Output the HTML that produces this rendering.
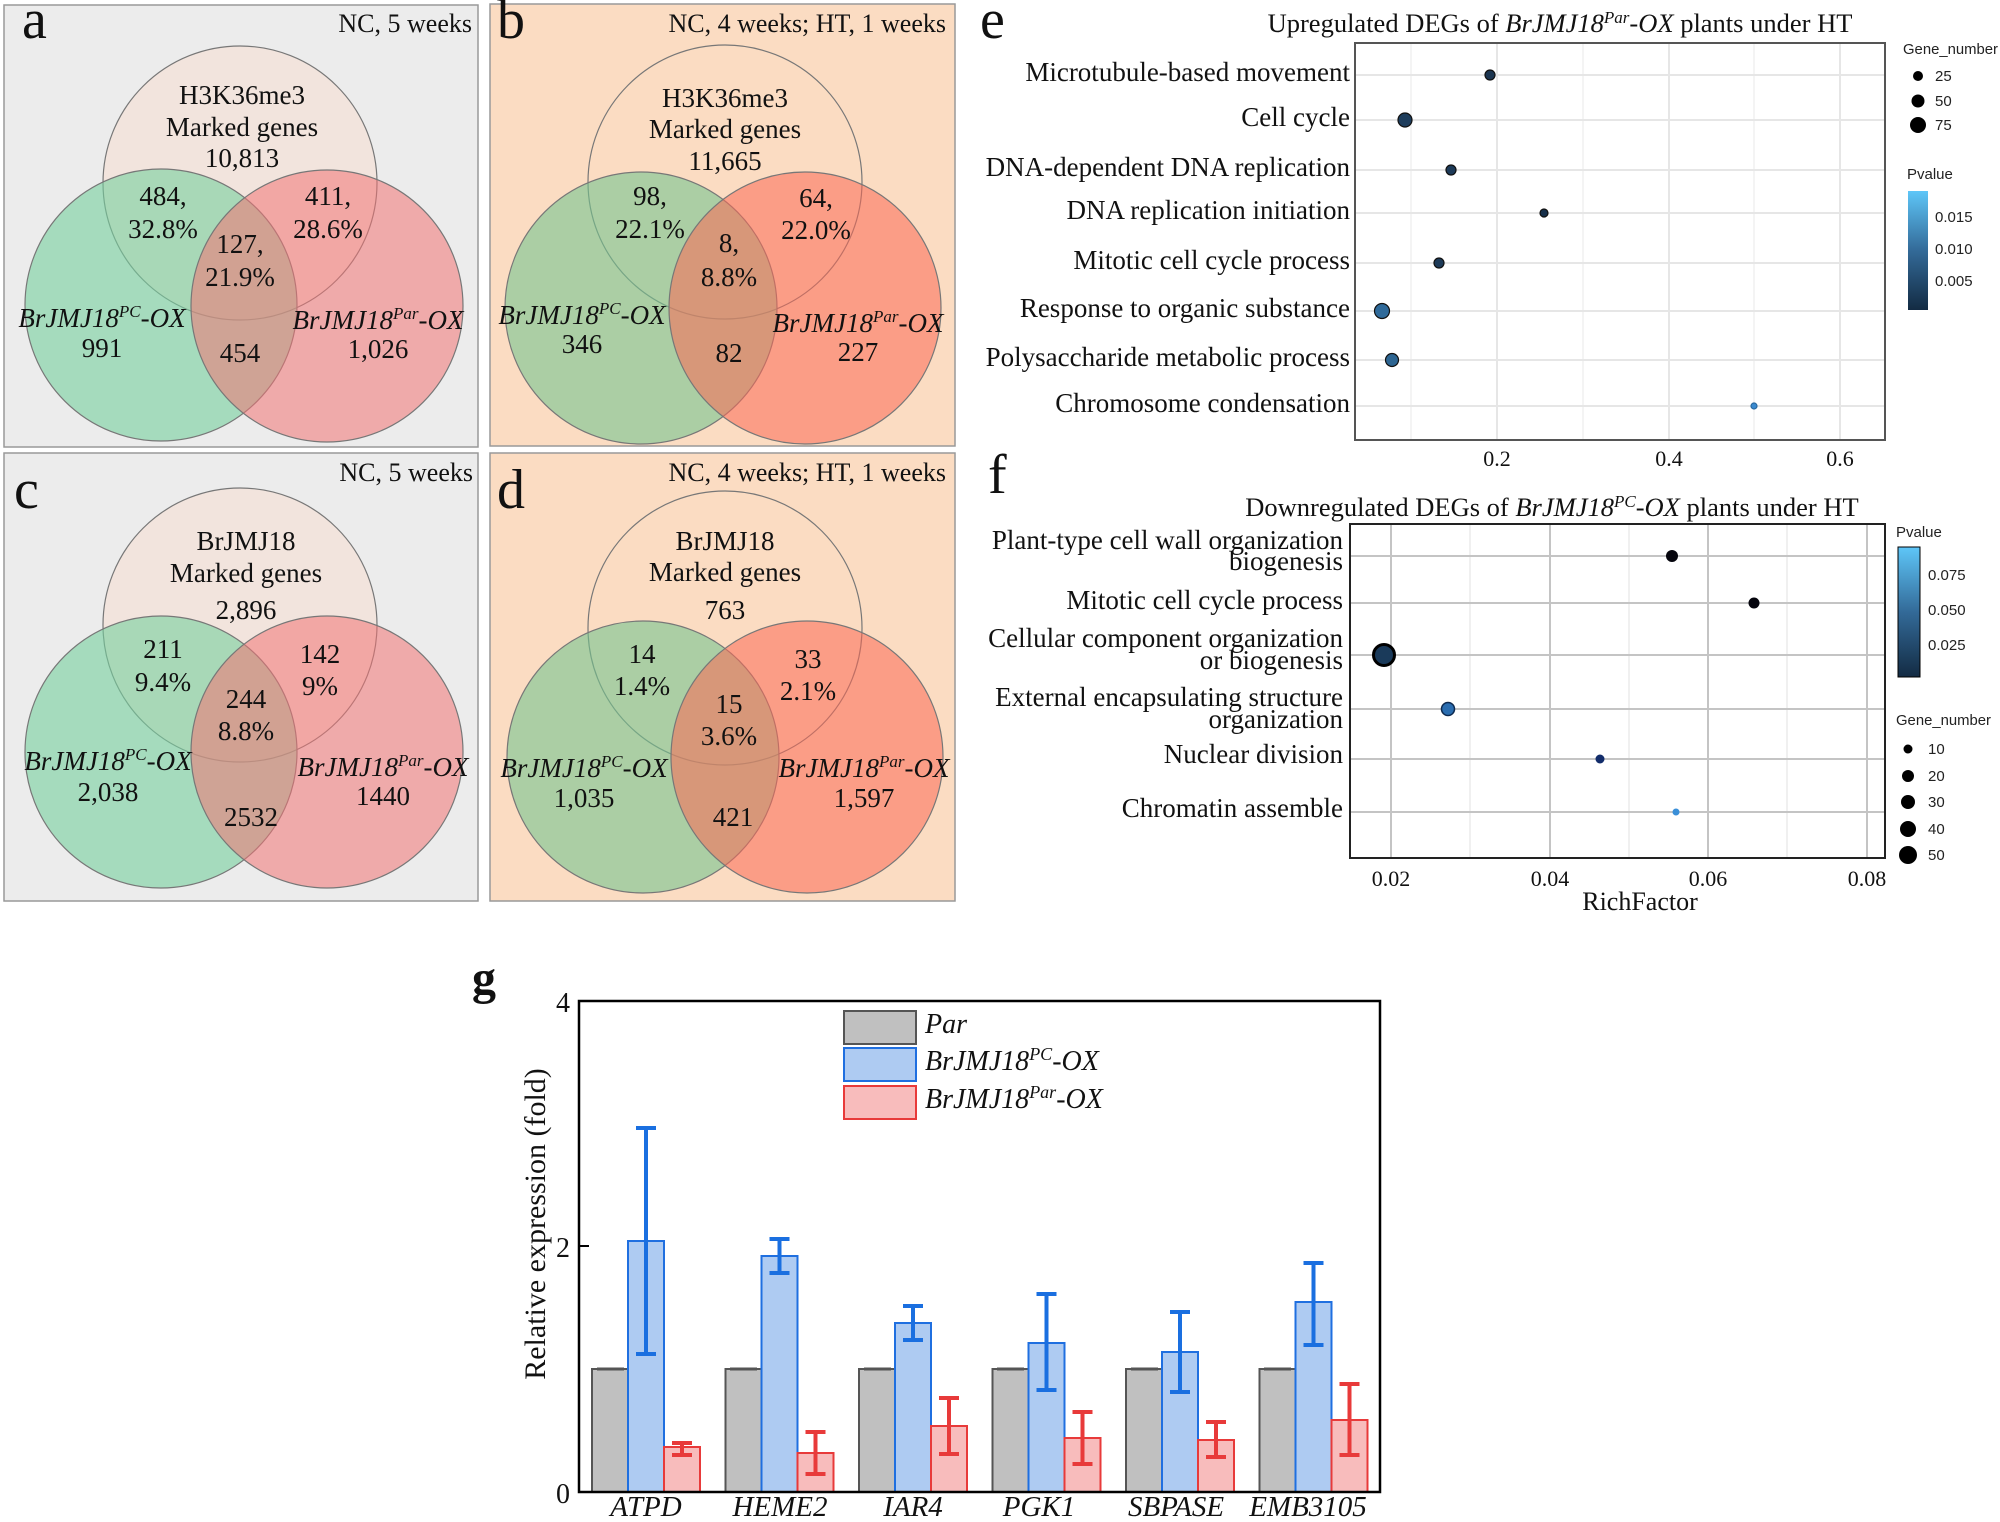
<!DOCTYPE html>
<html><head><meta charset="utf-8"><style>
html,body{margin:0;padding:0;background:#fff}
svg{display:block}
.t{font-family:"Liberation Serif",serif;fill:#111}
.s{font-family:"Liberation Sans",sans-serif;fill:#222}
</style></head><body>
<svg width="2000" height="1522" viewBox="0 0 2000 1522" xmlns="http://www.w3.org/2000/svg">
<defs>
<linearGradient id="pv" x1="0" y1="1" x2="0" y2="0"><stop offset="0" stop-color="#132b43"/><stop offset="0.5" stop-color="#336a98"/><stop offset="1" stop-color="#5ec6f8"/></linearGradient>
</defs>
<rect x="4" y="5" width="474" height="442" fill="#ececec" stroke="#999" stroke-width="1.5"/>
<rect x="490" y="4" width="465" height="442" fill="#fbdcc2" stroke="#999" stroke-width="1.5"/>
<rect x="4" y="453" width="474" height="448" fill="#ececec" stroke="#999" stroke-width="1.5"/>
<rect x="490" y="453" width="465" height="448" fill="#fbdcc2" stroke="#999" stroke-width="1.5"/>

<g stroke="#777" stroke-width="1.2">
<circle cx="240" cy="183" r="137" fill="#f7e0d4" fill-opacity="0.6"/>
<circle cx="161" cy="305" r="136" fill="#76d19f" fill-opacity="0.6"/>
<circle cx="327" cy="306" r="136" fill="#f37474" fill-opacity="0.55"/>
<circle cx="725" cy="182" r="137" fill="#fbdcc2" fill-opacity="0.5"/>
<circle cx="641" cy="308" r="136" fill="#76c48f" fill-opacity="0.6"/>
<circle cx="805" cy="308" r="136" fill="#fb6a55" fill-opacity="0.55"/>
<circle cx="240" cy="625" r="137" fill="#f7e0d4" fill-opacity="0.6"/>
<circle cx="161" cy="752" r="136" fill="#76d19f" fill-opacity="0.6"/>
<circle cx="327" cy="752" r="136" fill="#f37474" fill-opacity="0.55"/>
<circle cx="725" cy="628" r="137" fill="#fbdcc2" fill-opacity="0.5"/>
<circle cx="643" cy="757" r="136" fill="#76c48f" fill-opacity="0.6"/>
<circle cx="807" cy="757" r="136" fill="#fb6a55" fill-opacity="0.55"/>
</g>

<g class="t" text-anchor="middle" font-size="27">
<text x="22" y="38" font-size="56" text-anchor="start">a</text>
<text x="497" y="38" font-size="56" text-anchor="start">b</text>
<text x="14" y="508" font-size="56" text-anchor="start">c</text>
<text x="497" y="508" font-size="56" text-anchor="start">d</text>
<text x="472" y="32" text-anchor="end" font-size="26">NC, 5 weeks</text>
<text x="946" y="32" text-anchor="end" font-size="26">NC, 4 weeks; HT, 1 weeks</text>
<text x="473" y="481" text-anchor="end" font-size="26">NC, 5 weeks</text>
<text x="946" y="481" text-anchor="end" font-size="26">NC, 4 weeks; HT, 1 weeks</text>

<text x="242" y="104">H3K36me3</text><text x="242" y="136">Marked genes</text><text x="242" y="167">10,813</text>
<text x="163" y="205">484,</text><text x="163" y="238">32.8%</text>
<text x="328" y="205">411,</text><text x="328" y="238">28.6%</text>
<text x="240" y="253">127,</text><text x="240" y="286">21.9%</text>
<text x="102" y="327" font-style="italic">BrJMJ18<tspan font-size="17" dy="-10">PC</tspan><tspan dy="10">-OX</tspan></text><text x="102" y="357">991</text>
<text x="378" y="329" font-style="italic">BrJMJ18<tspan font-size="17" dy="-10">Par</tspan><tspan dy="10">-OX</tspan></text><text x="378" y="358">1,026</text>
<text x="240" y="362">454</text>
<text x="725" y="107">H3K36me3</text><text x="725" y="138">Marked genes</text><text x="725" y="170">11,665</text>
<text x="650" y="205">98,</text><text x="650" y="238">22.1%</text>
<text x="816" y="207">64,</text><text x="816" y="239">22.0%</text>
<text x="729" y="252">8,</text><text x="729" y="286">8.8%</text>
<text x="582" y="324" font-style="italic">BrJMJ18<tspan font-size="17" dy="-10">PC</tspan><tspan dy="10">-OX</tspan></text><text x="582" y="353">346</text>
<text x="858" y="332" font-style="italic">BrJMJ18<tspan font-size="17" dy="-10">Par</tspan><tspan dy="10">-OX</tspan></text><text x="858" y="361">227</text>
<text x="729" y="362">82</text>
<text x="246" y="550">BrJMJ18</text><text x="246" y="582">Marked genes</text><text x="246" y="619">2,896</text>
<text x="163" y="658">211</text><text x="163" y="691">9.4%</text>
<text x="320" y="663">142</text><text x="320" y="695">9%</text>
<text x="246" y="708">244</text><text x="246" y="740">8.8%</text>
<text x="108" y="770" font-style="italic">BrJMJ18<tspan font-size="17" dy="-10">PC</tspan><tspan dy="10">-OX</tspan></text><text x="108" y="801">2,038</text>
<text x="383" y="776" font-style="italic">BrJMJ18<tspan font-size="17" dy="-10">Par</tspan><tspan dy="10">-OX</tspan></text><text x="383" y="805">1440</text>
<text x="251" y="826">2532</text>
<text x="725" y="550">BrJMJ18</text><text x="725" y="581">Marked genes</text><text x="725" y="619">763</text>
<text x="642" y="663">14</text><text x="642" y="695">1.4%</text>
<text x="808" y="668">33</text><text x="808" y="700">2.1%</text>
<text x="729" y="713">15</text><text x="729" y="745">3.6%</text>
<text x="584" y="777" font-style="italic">BrJMJ18<tspan font-size="17" dy="-10">PC</tspan><tspan dy="10">-OX</tspan></text><text x="584" y="807">1,035</text>
<text x="864" y="777" font-style="italic">BrJMJ18<tspan font-size="17" dy="-10">Par</tspan><tspan dy="10">-OX</tspan></text><text x="864" y="807">1,597</text>
<text x="733" y="826">421</text>
</g>

<!-- Panel e -->
<text class="t" x="980" y="38" font-size="56">e</text>
<text class="t" x="1560" y="32" text-anchor="middle" font-size="26.5">Upregulated DEGs of <tspan font-style="italic">BrJMJ18<tspan font-size="17" dy="-9">Par</tspan><tspan dy="9">-OX</tspan></tspan> plants under HT</text>
<rect x="1355" y="43" width="530" height="397" fill="#fff"/>
<g stroke="#f0f0f0" stroke-width="1.5">
<line x1="1411" y1="43" x2="1411" y2="440"/><line x1="1583" y1="43" x2="1583" y2="440"/><line x1="1754" y1="43" x2="1754" y2="440"/>
</g>
<g stroke="#e6e6e6" stroke-width="2">
<line x1="1497" y1="43" x2="1497" y2="440"/><line x1="1669" y1="43" x2="1669" y2="440"/><line x1="1840" y1="43" x2="1840" y2="440"/>
<line x1="1355" y1="75" x2="1885" y2="75"/><line x1="1355" y1="120" x2="1885" y2="120"/><line x1="1355" y1="170" x2="1885" y2="170"/><line x1="1355" y1="213" x2="1885" y2="213"/><line x1="1355" y1="263" x2="1885" y2="263"/><line x1="1355" y1="311" x2="1885" y2="311"/><line x1="1355" y1="360" x2="1885" y2="360"/><line x1="1355" y1="406" x2="1885" y2="406"/>
</g>
<rect x="1355" y="43" width="530" height="397" fill="none" stroke="#555" stroke-width="2"/>
<g class="t" font-size="27" text-anchor="end">
<text x="1350" y="81">Microtubule-based movement</text>
<text x="1350" y="126">Cell cycle</text>
<text x="1350" y="176">DNA-dependent DNA replication</text>
<text x="1350" y="219">DNA replication initiation</text>
<text x="1350" y="269">Mitotic cell cycle process</text>
<text x="1350" y="317">Response to organic substance</text>
<text x="1350" y="366">Polysaccharide metabolic process</text>
<text x="1350" y="412">Chromosome condensation</text>
</g>
<g stroke="#111" stroke-width="1.2">
<circle cx="1490" cy="75" r="5" fill="#1b3550"/>
<circle cx="1405" cy="120" r="7" fill="#1e3d5c"/>
<circle cx="1451" cy="170" r="5" fill="#1d3a58"/>
<circle cx="1544" cy="213" r="4" fill="#17304a"/>
<circle cx="1439" cy="263" r="5" fill="#1d3a58"/>
<circle cx="1382" cy="311" r="7.5" fill="#2f6a9a"/>
<circle cx="1392" cy="360" r="6.5" fill="#2d6592"/>
<circle cx="1754" cy="406" r="3" fill="#3a8ad0" stroke="#2a6aa0"/>
</g>
<g class="t" font-size="22" text-anchor="middle" fill="#333">
<text x="1497" y="466">0.2</text><text x="1669" y="466">0.4</text><text x="1840" y="466">0.6</text>
</g>
<g class="s" font-size="15">
<text x="1903" y="54" textLength="95" lengthAdjust="spacingAndGlyphs">Gene_number</text>
<circle cx="1918" cy="76" r="5" fill="#000"/><text x="1935" y="81">25</text>
<circle cx="1918" cy="101" r="6.5" fill="#000"/><text x="1935" y="106">50</text>
<circle cx="1918" cy="125" r="8" fill="#000"/><text x="1935" y="130">75</text>
<text x="1907" y="179">Pvalue</text>
<rect x="1908" y="191" width="20" height="119" fill="url(#pv)"/>
<text x="1935" y="222">0.015</text><text x="1935" y="254">0.010</text><text x="1935" y="286">0.005</text>
</g>

<!-- Panel f -->
<text class="t" x="988" y="493" font-size="56">f</text>
<text class="t" x="1552" y="516" text-anchor="middle" font-size="26.5">Downregulated DEGs of <tspan font-style="italic">BrJMJ18<tspan font-size="17" dy="-9">PC</tspan><tspan dy="9">-OX</tspan></tspan> plants under HT</text>
<rect x="1350" y="524" width="535" height="334" fill="#fff"/>
<g stroke="#ececec" stroke-width="1.5">
<line x1="1470" y1="524" x2="1470" y2="858"/><line x1="1629" y1="524" x2="1629" y2="858"/><line x1="1787" y1="524" x2="1787" y2="858"/>
</g>
<g stroke="#c4c4c4" stroke-width="2">
<line x1="1391" y1="524" x2="1391" y2="858"/><line x1="1550" y1="524" x2="1550" y2="858"/><line x1="1708" y1="524" x2="1708" y2="858"/><line x1="1867" y1="524" x2="1867" y2="858"/>
<line x1="1350" y1="556" x2="1885" y2="556"/><line x1="1350" y1="603" x2="1885" y2="603"/><line x1="1350" y1="655" x2="1885" y2="655"/><line x1="1350" y1="709" x2="1885" y2="709"/><line x1="1350" y1="759" x2="1885" y2="759"/><line x1="1350" y1="812" x2="1885" y2="812"/>
</g>
<rect x="1350" y="524" width="535" height="334" fill="none" stroke="#222" stroke-width="2"/>
<g class="t" font-size="27" text-anchor="end">
<text x="1343" y="549">Plant-type cell wall organization</text>
<text x="1343" y="570">biogenesis</text>
<text x="1343" y="609">Mitotic cell cycle process</text>
<text x="1343" y="647">Cellular component organization</text>
<text x="1343" y="669">or biogenesis</text>
<text x="1343" y="706">External encapsulating structure</text>
<text x="1343" y="728">organization</text>
<text x="1343" y="763">Nuclear division</text>
<text x="1343" y="817">Chromatin assemble</text>
</g>
<circle cx="1672" cy="556" r="6" fill="#05050d"/>
<circle cx="1754" cy="603" r="5.5" fill="#05050d"/>
<circle cx="1384" cy="655" r="10.5" fill="#1a3a5a" stroke="#000" stroke-width="3"/>
<circle cx="1448" cy="709" r="6.5" fill="#2a6db0" stroke="#0d2a50" stroke-width="1.5"/>
<circle cx="1600" cy="759" r="4.5" fill="#122c6a"/>
<circle cx="1676" cy="812" r="3.5" fill="#3a8fd8"/>
<g class="t" font-size="22" text-anchor="middle" fill="#333">
<text x="1391" y="886">0.02</text><text x="1550" y="886">0.04</text><text x="1708" y="886">0.06</text><text x="1867" y="886">0.08</text>
<text x="1640" y="910" font-size="26" fill="#111">RichFactor</text>
</g>
<g class="s" font-size="15">
<text x="1896" y="537">Pvalue</text>
<rect x="1898" y="547" width="22" height="130" fill="url(#pv)" stroke="#000" stroke-width="1"/>
<text x="1928" y="580">0.075</text><text x="1928" y="615">0.050</text><text x="1928" y="650">0.025</text>
<text x="1896" y="725" textLength="95" lengthAdjust="spacingAndGlyphs">Gene_number</text>
<circle cx="1908" cy="749" r="4.5" fill="#000"/><text x="1928" y="754">10</text>
<circle cx="1908" cy="776" r="6" fill="#000"/><text x="1928" y="781">20</text>
<circle cx="1908" cy="802" r="7" fill="#000"/><text x="1928" y="807">30</text>
<circle cx="1908" cy="829" r="8" fill="#000"/><text x="1928" y="834">40</text>
<circle cx="1908" cy="855" r="9" fill="#000"/><text x="1928" y="860">50</text>
</g>

<!-- Panel g -->
<text class="t" x="472" y="994" font-size="48" font-weight="bold">g</text>
<g class="t" font-size="28" text-anchor="end">
<text x="570" y="1012">4</text><text x="570" y="1257">2</text><text x="570" y="1503">0</text>
</g>
<text class="t" font-size="30" text-anchor="middle" transform="translate(545,1224) rotate(-90)">Relative expression (fold)</text>
<g stroke-width="2">
<g fill="#c0c0c0" stroke="#555">
<rect x="592" y="1369" width="36" height="123"/><rect x="725.5" y="1369" width="36" height="123"/><rect x="859" y="1369" width="36" height="123"/><rect x="992.5" y="1369" width="36" height="123"/><rect x="1126" y="1369" width="36" height="123"/><rect x="1259.5" y="1369" width="36" height="123"/>
</g>
<g fill="#aecbf2" stroke="#1f6fe0">
<rect x="628" y="1241" width="36" height="251"/><rect x="761.5" y="1256" width="36" height="236"/><rect x="895" y="1323" width="36" height="169"/><rect x="1028.5" y="1343" width="36" height="149"/><rect x="1162" y="1352" width="36" height="140"/><rect x="1295.5" y="1302" width="36" height="190"/>
</g>
<g fill="#f8bcbc" stroke="#e83a3a">
<rect x="664" y="1447" width="36" height="45"/><rect x="797.5" y="1453" width="36" height="39"/><rect x="931" y="1426" width="36" height="66"/><rect x="1064.5" y="1438" width="36" height="54"/><rect x="1198" y="1440" width="36" height="52"/><rect x="1331.5" y="1420" width="36" height="72"/>
</g>
</g>
<g stroke="#1a6fe0" stroke-width="4">
<path d="M646 1128V1354M636 1128H656M636 1354H656"/>
<path d="M779.5 1239V1273M769.5 1239H789.5M769.5 1273H789.5"/>
<path d="M913 1306V1340M903 1306H923M903 1340H923"/>
<path d="M1046.5 1294V1390M1036.5 1294H1056.5M1036.5 1390H1056.5"/>
<path d="M1180 1312V1392M1170 1312H1190M1170 1392H1190"/>
<path d="M1313.5 1263V1345M1303.5 1263H1323.5M1303.5 1345H1323.5"/>
</g>
<g stroke="#e83a3a" stroke-width="4">
<path d="M682 1443V1455M672 1443H692M672 1455H692"/>
<path d="M815.5 1432V1474M805.5 1432H825.5M805.5 1474H825.5"/>
<path d="M949 1398V1454M939 1398H959M939 1454H959"/>
<path d="M1082.5 1412V1464M1072.5 1412H1092.5M1072.5 1464H1092.5"/>
<path d="M1216 1422V1457M1206 1422H1226M1206 1457H1226"/>
<path d="M1349.5 1384V1455M1339.5 1384H1359.5M1339.5 1455H1359.5"/>
</g>
<g stroke="#555" stroke-width="3"><path d="M597 1369H624M730 1369H757M864 1369H891M997 1369H1024M1131 1369H1158M1264 1369H1291"/></g>
<rect x="579" y="1001" width="801" height="491" fill="none" stroke="#000" stroke-width="2.5"/>
<path d="M579 1246H589" stroke="#000" stroke-width="2"/>
<g class="t" font-size="29" font-style="italic" text-anchor="middle">
<text x="646" y="1516">ATPD</text><text x="780" y="1516">HEME2</text><text x="913" y="1516">IAR4</text><text x="1039" y="1516">PGK1</text><text x="1176" y="1516">SBPASE</text><text x="1308" y="1516">EMB3105</text>
</g>
<rect x="844" y="1011" width="72" height="33" fill="#c0c0c0" stroke="#555" stroke-width="2"/>
<rect x="844" y="1048" width="72" height="33" fill="#aecbf2" stroke="#1f6fe0" stroke-width="2"/>
<rect x="844" y="1086" width="72" height="33" fill="#f8bcbc" stroke="#e83a3a" stroke-width="2"/>
<g class="t" font-size="28" font-style="italic">
<text x="925" y="1033">Par</text>
<text x="925" y="1070">BrJMJ18<tspan font-size="18" dy="-10">PC</tspan><tspan dy="10">-OX</tspan></text>
<text x="925" y="1108">BrJMJ18<tspan font-size="18" dy="-10">Par</tspan><tspan dy="10">-OX</tspan></text>
</g>
</svg>
</body></html>
